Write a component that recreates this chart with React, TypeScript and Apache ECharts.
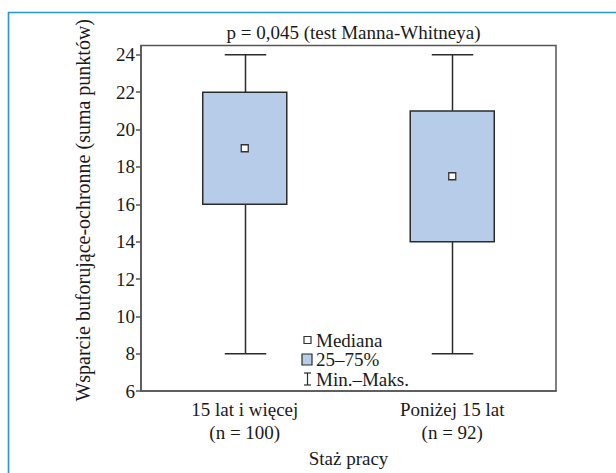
import React, { useEffect, useRef } from 'react';
import * as echarts from 'echarts';

const categories = ['15 lat i więcej\n(n = 100)', 'Poniżej 15 lat\n(n = 92)'];
const minValues = [8, 8];
const q1Values = [16, 14];
const medianValues = [19, 17.5];
const q3Values = [22, 21];
const maxValues = [24, 24];
const yTicks = [6, 8, 10, 12, 14, 16, 18, 20, 22, 24];
const legendLabels = ['Mediana', '25–75%', 'Min.–Maks.'];
const titleText = 'p = 0,045 (test Manna-Whitneya)';
const yAxisName = 'Wsparcie buforujące-ochronne (suma punktów)';
const xAxisName = 'Staż pracy';

const FONT = 'Liberation Serif';
const FS = 19;
const TXT = '#1a1a1a';
const AXIS = '#555555';
const BOX_FILL = '#b7cce8';
const STROKE = '#2b2b2b';
const FRAME = '#2a93d8';

export default function App() {
  const ref = useRef<HTMLDivElement>(null);
  useEffect(() => {
    if (!ref.current) return;
    const chart = echarts.init(ref.current, undefined, { renderer: 'svg' });
    const boxData = categories.map((_, i) => [i, q1Values[i], q3Values[i]]);
    const whiskerData = categories.map((_, i) => [i, minValues[i], q1Values[i], q3Values[i], maxValues[i]]);
    const medianData = categories.map((_, i) => [i, medianValues[i]]);

    const lx = 304;
    const ly = 340;
    const lg = 19.5;
    const legendText = (t: string, y: number) => ({
      type: 'text',
      x: lx + 12,
      y,
      style: { text: t, fontFamily: FONT, fontSize: FS, fill: TXT, verticalAlign: 'middle' },
    });
    chart.setOption({
      animation: false,
      title: {
        text: titleText,
        left: 348.5,
        top: 18,
        textAlign: 'center',
        textStyle: { fontFamily: FONT, fontSize: FS, fontWeight: 'normal', color: TXT },
      },
      grid: {
        left: 141,
        right: 60,
        top: 45.5,
        bottom: 70,
        show: true,
        borderColor: AXIS,
        borderWidth: 1.5,
      },
      xAxis: {
        type: 'category',
        data: categories,
        boundaryGap: true,
        axisTick: { show: false },
        axisLine: { lineStyle: { color: AXIS, width: 1.5 } },
        axisLabel: { fontFamily: FONT, fontSize: FS, color: TXT, lineHeight: 23, margin: 7 },
        name: xAxisName,
        nameLocation: 'middle',
        nameGap: 53,
        nameTextStyle: { fontFamily: FONT, fontSize: FS, color: TXT },
      },
      yAxis: {
        type: 'value',
        min: 6,
        max: 24.5,
        interval: 2,
        splitLine: { show: false },
        axisLine: { show: true, lineStyle: { color: AXIS, width: 1.5 } },
        axisTick: { show: true, length: 5, customValues: yTicks, lineStyle: { color: AXIS, width: 1.5 } },
        axisLabel: { fontFamily: FONT, fontSize: FS, color: TXT, margin: 6, customValues: yTicks },
        name: yAxisName,
        nameLocation: 'middle',
        nameGap: 48,
        nameRotate: 90,
        nameTextStyle: { fontFamily: FONT, fontSize: 20, color: TXT, padding: [0, 0, 0, 16] },
      },
      series: [
        {
          name: legendLabels[2],
          type: 'custom',
          data: whiskerData,
          encode: { x: 0, y: [1, 2, 3, 4] },
          renderItem: (params: any, api: any) => {
            const x = api.value(0);
            const pMin = api.coord([x, api.value(1)]);
            const pQ1 = api.coord([x, api.value(2)]);
            const pQ3 = api.coord([x, api.value(3)]);
            const pMax = api.coord([x, api.value(4)]);
            const cap = api.size([1, 0])[0] * 0.2;
            const cx = Math.round(pMin[0]) + 0.5;
            const style = { stroke: STROKE, lineWidth: 1.5, fill: 'none' };
            return {
              type: 'group',
              children: [
                { type: 'line', shape: { x1: cx, y1: pMax[1], x2: cx, y2: pQ3[1] }, style },
                { type: 'line', shape: { x1: cx, y1: pQ1[1], x2: cx, y2: pMin[1] }, style },
                { type: 'line', shape: { x1: cx - cap / 2, y1: pMax[1], x2: cx + cap / 2, y2: pMax[1] }, style },
                { type: 'line', shape: { x1: cx - cap / 2, y1: pMin[1], x2: cx + cap / 2, y2: pMin[1] }, style },
              ],
            };
          },
          z: 2,
        },
        {
          name: legendLabels[1],
          type: 'custom',
          data: boxData,
          encode: { x: 0, y: [1, 2] },
          renderItem: (params: any, api: any) => {
            const x = api.value(0);
            const p1 = api.coord([x, api.value(2)]);
            const p2 = api.coord([x, api.value(1)]);
            const bw = api.size([1, 0])[0] * 0.405;
            return {
              type: 'rect',
              shape: { x: p1[0] - bw / 2, y: p1[1], width: bw, height: p2[1] - p1[1] },
              style: { fill: BOX_FILL, stroke: STROKE, lineWidth: 1.5 },
            };
          },
          z: 3,
        },
        {
          name: legendLabels[0],
          type: 'scatter',
          data: medianData,
          symbol: 'rect',
          symbolSize: 7,
          itemStyle: { color: '#ffffff', borderColor: '#333333', borderWidth: 1.3, opacity: 1 },
          z: 4,
        },
      ],
      graphic: [
        { type: 'line', shape: { x1: 8, y1: 12.5, x2: 616, y2: 12.5 }, style: { stroke: FRAME, lineWidth: 1.6 } },
        { type: 'line', shape: { x1: 8.5, y1: 12, x2: 8.5, y2: 473 }, style: { stroke: FRAME, lineWidth: 1.6 } },
        {
          type: 'group',
          z: 10,
          children: [
            { type: 'rect', shape: { x: lx, y: ly - 3.5, width: 7, height: 7 }, style: { fill: '#fff', stroke: '#333', lineWidth: 1.2 } },
            legendText(legendLabels[0], ly),
            { type: 'rect', shape: { x: lx - 2, y: ly + lg - 5.5, width: 10, height: 11 }, style: { fill: BOX_FILL, stroke: STROKE, lineWidth: 1.2 } },
            legendText(legendLabels[1], ly + lg),
            { type: 'line', shape: { x1: lx, y1: ly + 2 * lg - 6, x2: lx + 7, y2: ly + 2 * lg - 6 }, style: { stroke: STROKE, lineWidth: 1.2 } },
            { type: 'line', shape: { x1: lx + 3.5, y1: ly + 2 * lg - 6, x2: lx + 3.5, y2: ly + 2 * lg + 6 }, style: { stroke: STROKE, lineWidth: 1.2 } },
            { type: 'line', shape: { x1: lx, y1: ly + 2 * lg + 6, x2: lx + 7, y2: ly + 2 * lg + 6 }, style: { stroke: STROKE, lineWidth: 1.2 } },
            legendText(legendLabels[2], ly + 2 * lg),
          ],
        },
      ],
    });
    return () => chart.dispose();
  }, []);
  return <div ref={ref} style={{ position: 'absolute', left: 0, top: 0, width: 616, height: 473 }} />;
}
